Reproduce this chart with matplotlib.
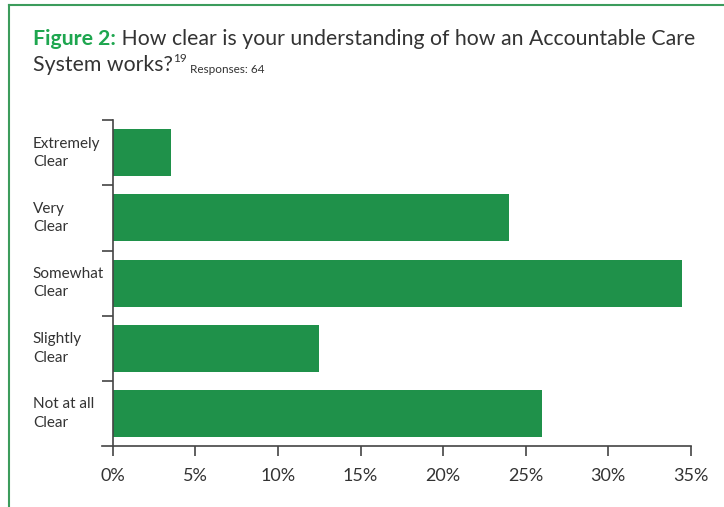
import numpy as np
import matplotlib
matplotlib.use("Agg")
import matplotlib.pyplot as plt
import matplotlib.transforms as mtransforms

plt.rcParams['font.family'] = ['Lato', 'DejaVu Sans']

# data
categories = ["Extremely\nClear", "Very\nClear", "Somewhat\nClear", "Slightly\nClear", "Not at all\nClear"]
values = [3.5, 24.0, 34.5, 12.5, 26.0]
xticks = [0, 5, 10, 15, 20, 25, 30, 35]
xtick_labels = [f"{t}%" for t in xticks]

bar_green = "#1f914a"
title_green = "#1ea64f"
text_col = "#333333"
axis_col = "#444444"

fig = plt.figure(figsize=(7.24, 5.07), dpi=100)
ax = fig.add_axes([0.156, 0.120, 0.798, 0.643])

pos = np.arange(len(categories))
ax.barh(pos, values, height=0.72, color=bar_green)
ax.set_ylim(len(categories) - 0.5, -0.5)
ax.set_xlim(0, 35)

# x axis
ax.set_xticks(xticks)
ax.set_xticklabels(xtick_labels, fontsize=13, color=text_col)
ax.tick_params(axis='x', length=7, width=1.2, color=axis_col, pad=9)

# y ticks on category boundaries, labels placed as left-aligned text
ax.set_yticks(np.arange(len(categories)) - 0.5)
ax.set_yticklabels([])
ax.tick_params(axis='y', length=8, width=1.2, color=axis_col)
lab_trans = mtransforms.offset_copy(ax.get_yaxis_transform(), fig=fig, x=-80, y=0, units='dots')
for i, c in enumerate(categories):
    ax.text(0, i, c, transform=lab_trans, fontsize=11,
            color=text_col, ha='left', va='center', linespacing=1.4)

for s in ['top', 'right']:
    ax.spines[s].set_visible(False)
ax.spines['left'].set_color(axis_col)
ax.spines['bottom'].set_color(axis_col)
ax.spines['left'].set_linewidth(1.2)
ax.spines['bottom'].set_linewidth(1.2)
ax.spines['bottom'].set_bounds(-0.68, 35)

# title
t1 = fig.text(33 / 724, 1 - 45 / 507, "Figure 2:", fontsize=15.3, fontweight='bold',
              color=title_green, ha='left', va='baseline')
t2 = ax.annotate(" How clear is your understanding of how an Accountable Care",
                 xy=(1, 0), xycoords=t1, fontsize=15.3, color=text_col,
                 ha='left', va='bottom', annotation_clip=False)
t3 = fig.text(33 / 724, 1 - 71 / 507, "System works?", fontsize=15.3,
              color=text_col, ha='left', va='baseline')
t4 = ax.annotate("19", xy=(1, 0.55), xycoords=t3, fontsize=8.5, color=text_col,
                 ha='left', va='bottom', annotation_clip=False)
ax.annotate("Responses: 64", xy=(1, 0), xycoords=t3, fontsize=8.5, color=text_col,
            xytext=(12, 0), textcoords='offset points',
            ha='left', va='bottom', annotation_clip=False)

# green frame along the left and top
frame_col = "#3c9c5c"
fig.add_artist(plt.Line2D([9 / 724, 9 / 724], [0, 1 - 5 / 507], color=frame_col,
                          lw=1.5, transform=fig.transFigure))
fig.add_artist(plt.Line2D([9 / 724, 1], [1 - 5 / 507, 1 - 5 / 507], color=frame_col,
                          lw=1.5, transform=fig.transFigure))

fig.savefig("out.png", dpi=100)
